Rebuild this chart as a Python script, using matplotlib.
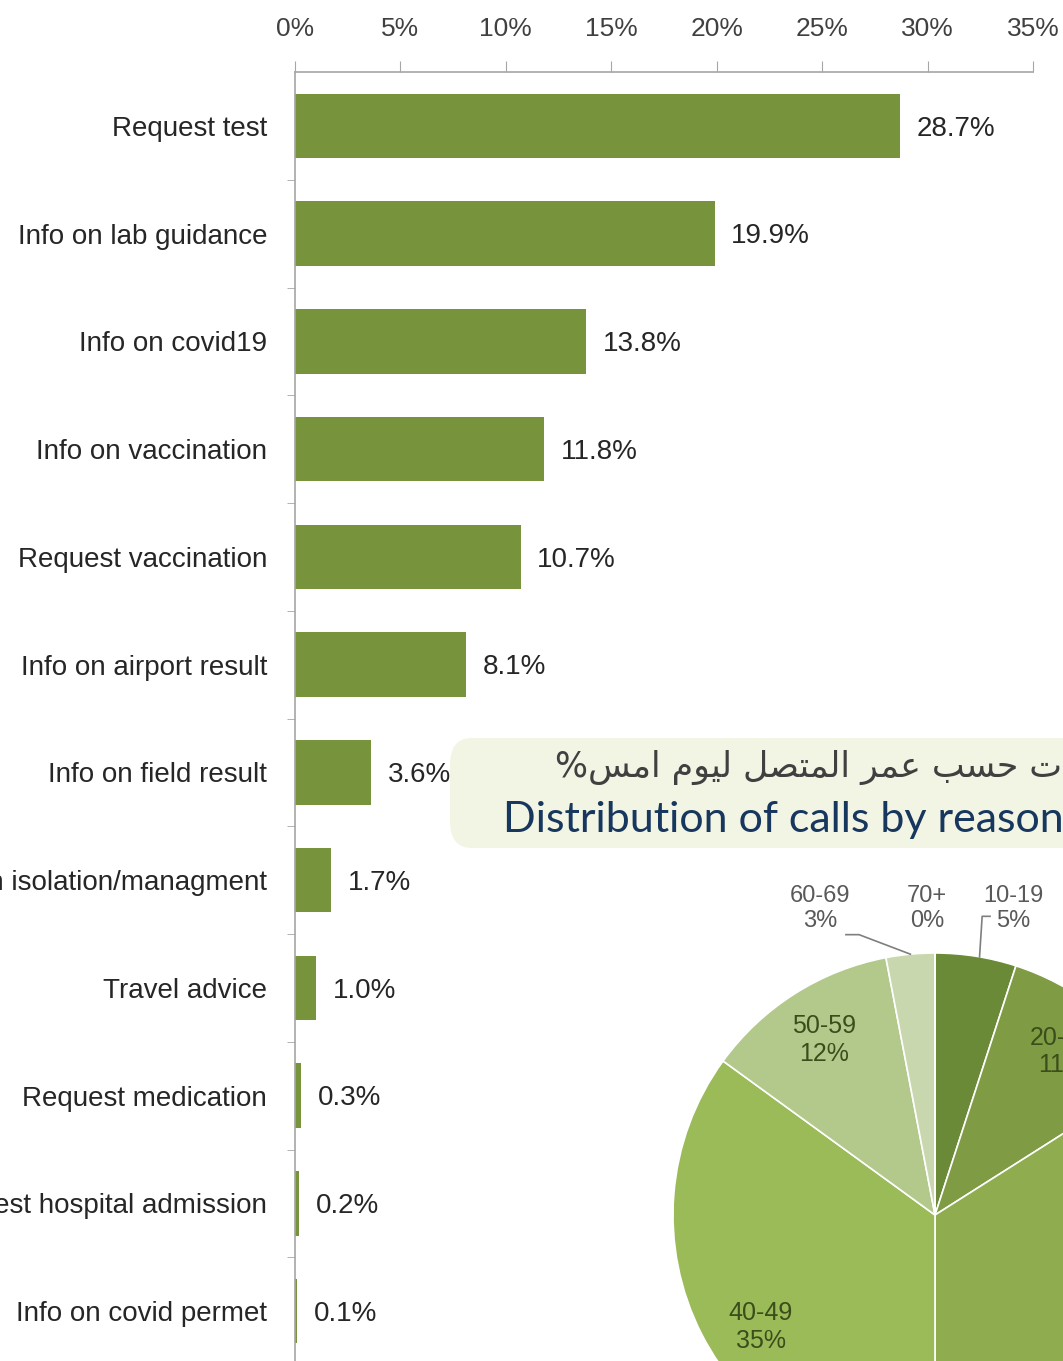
import numpy as np
import matplotlib
matplotlib.use("Agg")
import matplotlib.pyplot as plt
from matplotlib.patches import FancyBboxPatch

plt.rcParams['font.family'] = ['Liberation Sans Narrow', 'Liberation Sans', 'DejaVu Sans']

# bar data (share of calls by reason)
reasons = ["Request test", "Info on lab guidance", "Info on covid19", "Info on vaccination",
           "Request vaccination", "Info on airport result", "Info on field result",
           "Info on isolation/managment", "Travel advice", "Request medication",
           "Request hospital admission", "Info on covid permet"]
shares = [28.7, 19.9, 13.8, 11.8, 10.7, 8.1, 3.6, 1.7, 1.0, 0.3, 0.2, 0.1]
x_ticks = [0, 5, 10, 15, 20, 25, 30, 35]

# pie data (calls by caller age)
ages = ["10-19", "20-29", "30-39", "40-49", "50-59", "60-69", "70+"]
age_pct = [5, 11, 34, 35, 12, 3, 0]
age_colors = ["#6b8a38", "#7f9b43", "#8fad4f", "#9bbb59", "#b3c98c", "#c8d7ad", "#dbe5cb"]

title_ar = "توزيع المكالمات حسب عمر المتصل ليوم امس%"
title_en = "Distribution of calls by reason"

BAR = "#77933c"
GREY = "#a6a6a6"

# --- minimal arabic shaping (presentation forms, visual order) ---
FORMS = {
    'ا': ('\uFE8D', '\uFE8E', None, None),
    'ب': ('\uFE8F', '\uFE90', '\uFE91', '\uFE92'),
    'ت': ('\uFE95', '\uFE96', '\uFE97', '\uFE98'),
    'ح': ('\uFEA1', '\uFEA2', '\uFEA3', '\uFEA4'),
    'ر': ('\uFEAD', '\uFEAE', None, None),
    'ز': ('\uFEAF', '\uFEB0', None, None),
    'س': ('\uFEB1', '\uFEB2', '\uFEB3', '\uFEB4'),
    'ص': ('\uFEB9', '\uFEBA', '\uFEBB', '\uFEBC'),
    'ع': ('\uFEC9', '\uFECA', '\uFECB', '\uFECC'),
    'ك': ('\uFED9', '\uFEDA', '\uFEDB', '\uFEDC'),
    'ل': ('\uFEDD', '\uFEDE', '\uFEDF', '\uFEE0'),
    'م': ('\uFEE1', '\uFEE2', '\uFEE3', '\uFEE4'),
    'و': ('\uFEED', '\uFEEE', None, None),
    'ي': ('\uFEF1', '\uFEF2', '\uFEF3', '\uFEF4'),
}


def shape_arabic(text):
    out = []
    for i, ch in enumerate(text):
        if ch not in FORMS:
            out.append(ch)
            continue
        prev = text[i - 1] if i > 0 else ''
        nxt = text[i + 1] if i + 1 < len(text) else ''
        join_prev = prev in FORMS and FORMS[prev][2] is not None
        join_next = nxt in FORMS and FORMS[ch][2] is not None
        iso, fin, ini, med = FORMS[ch]
        if join_prev and join_next:
            out.append(med)
        elif join_prev:
            out.append(fin)
        elif join_next:
            out.append(ini)
        else:
            out.append(iso)
    return ''.join(out)[::-1]


W, H = 1063, 1361
fig = plt.figure(figsize=(W / 100, H / 100), dpi=100)
fig.patch.set_facecolor("white")

# --- bar chart ---
ax = fig.add_axes([295 / W, -4 / H, 738 / W, (H - 72 + 4) / H])
y = np.arange(len(reasons))
ax.barh(y, shares, height=0.6, color=BAR)
ax.set_xlim(0, 35)
ax.set_ylim(len(reasons) - 0.5, -0.5)
ax.xaxis.tick_top()
ax.set_xticks(x_ticks)
ax.set_xticklabels([f"{t}%" for t in x_ticks], fontsize=19, color="#404040")
ax.tick_params(axis='x', direction='out', length=8, color=GREY, pad=14)
ax.set_yticks(y)
ax.set_yticklabels(reasons, fontsize=20, color="#262626")
ax.tick_params(axis='y', which='major', length=0, pad=20)
ax.set_yticks(np.arange(len(reasons) - 1) + 0.5, minor=True)
ax.tick_params(axis='y', which='minor', length=6, color=GREY)
for s in ["right", "bottom"]:
    ax.spines[s].set_visible(False)
ax.spines["top"].set_color(GREY)
ax.spines["left"].set_color(GREY)
ax.spines["top"].set_linewidth(1.2)
ax.spines["left"].set_linewidth(1.2)
for yi, v in zip(y, shares):
    ax.annotate(f"{v:.1f}%", (v, yi), xytext=(12, -2), textcoords="offset points",
                va="center", ha="left", fontsize=20, color="#262626")

# --- title box ---
box = FancyBboxPatch((450 / W, 1 - 848 / H), 0.7, 110 / H,
                     boxstyle="round,pad=0,rounding_size=0.02",
                     transform=fig.transFigure, fc="#f3f5e4", ec="none", zorder=3)
fig.patches.append(box)
fig.text(555 / W, 1 - 768 / H, shape_arabic(title_ar), family="DejaVu Sans",
         fontsize=25, color="#404040", ha="left", va="center", zorder=4)
fig.text(503 / W, 1 - 820 / H, title_en, family=["Lato", "DejaVu Sans"],
         fontsize=31, color="#17375e", ha="left", va="center", zorder=4)

# --- pie chart ---
r = 262
pa = fig.add_axes([(935 - r) / W, (H - 1215 - r) / H, 2 * r / W, 2 * r / H])
pa.patch.set_alpha(0)
wedges, _ = pa.pie(age_pct, colors=age_colors, startangle=90, counterclock=False,
                   wedgeprops=dict(edgecolor="white", linewidth=1.2))
pa.set_xlim(-1, 1)
pa.set_ylim(-1, 1)

inside_col = "#3b4d1b"
outside_col = "#595959"
for w, lab, p in zip(wedges, ages, age_pct):
    mid = np.deg2rad((w.theta1 + w.theta2) / 2)
    txt = f"{lab}\n{p}%"
    if p >= 10:
        off = 0.1 if p > 30 else 0.0
        pa.text(0.79 * np.cos(mid + off), 0.79 * np.sin(mid + off), txt, ha="center",
                va="center", fontsize=18, color=inside_col, linespacing=1.2)

# small slices labelled above the pie with leaders
pa.text(0.30, 1.17, f"{ages[0]}\n{age_pct[0]}%", ha="center", va="center",
        fontsize=17, color=outside_col, linespacing=1.2, clip_on=False)
pa.plot([0.21, 0.18, 0.17], [1.14, 1.14, 0.985], color="#7f7f7f", lw=1.2, clip_on=False)
pa.text(-0.03, 1.17, f"{ages[6]}\n{age_pct[6]}%", ha="center", va="center",
        fontsize=17, color=outside_col, linespacing=1.2, clip_on=False)
pa.text(-0.44, 1.17, f"{ages[5]}\n{age_pct[5]}%", ha="center", va="center",
        fontsize=17, color=outside_col, linespacing=1.2, clip_on=False)
m = np.deg2rad((wedges[5].theta1 + wedges[5].theta2) / 2)
pa.plot([-0.34, -0.29, np.cos(m)], [1.07, 1.07, np.sin(m)], color="#7f7f7f",
        lw=1.2, clip_on=False)

fig.savefig("out.png", dpi=100)
